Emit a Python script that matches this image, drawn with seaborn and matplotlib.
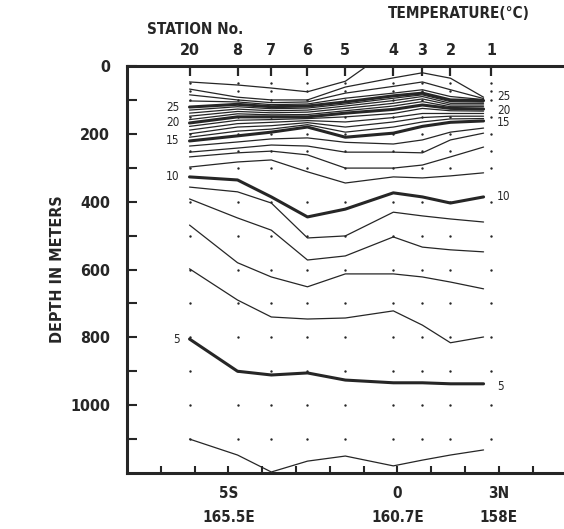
import numpy as np
import pandas as pd
import matplotlib
matplotlib.use("Agg")
import matplotlib.pyplot as plt
import seaborn as sns

# ---------------- data ----------------
station_no = ["20", "8", "7", "6", "5", "4", "3", "2", "1"]
station_lat = [-6.15, -4.73, -3.73, -2.66, -1.54, -0.12, 0.74, 1.57, 2.78]   # degrees (S negative)
iso_lat = [-6.15, -4.73, -3.73, -2.66, -1.54, -0.12, 0.74, 1.57, 2.55]       # where isotherm points sit
sample_depths = [50, 75, 100, 150, 200, 250, 300, 400, 500, 600, 700, 800, 900, 1000, 1100]

nan = np.nan
iso_29 = [47, 56, 65, 76, 45, -55, nan, nan, nan]
iso_28 = [68, 92, 100, 100, 62, 35, 20, 36, 92]
iso_27 = [85, 100, 108, 106, 80, 60, 47, 70, 96]
iso_26 = [103, 106, 114, 112, 95, 80, 70, 90, 99]
iso_25 = [121, 113, 120, 118, 106, 88, 80, 100, 102]
iso_24 = [130, 120, 126, 124, 112, 95, 85, 105, 106]
iso_23 = [139, 127, 132, 130, 118, 102, 90, 110, 110]
iso_22 = [148, 134, 138, 136, 125, 110, 97, 115, 115]
iso_21 = [158, 141, 144, 143, 132, 118, 105, 120, 120]
iso_20 = [168, 150, 150, 150, 139, 128, 115, 125, 127]
iso_19 = [178, 160, 158, 155, 150, 140, 125, 132, 133]
iso_18 = [189, 170, 166, 161, 165, 152, 140, 140, 140]
iso_17 = [200, 180, 176, 167, 180, 165, 152, 148, 148]
iso_16 = [210, 192, 186, 173, 195, 180, 165, 156, 155]
iso_15 = [221, 206, 195, 180, 210, 198, 178, 166, 162]
iso_14 = [236, 224, 215, 212, 225, 230, 218, 195, 183]
iso_13 = [254, 242, 233, 236, 254, 254, 256, 218, 198]
iso_12 = [268, 256, 251, 262, 301, 301, 292, 268, 239]
iso_11 = [298, 283, 277, 312, 345, 327, 330, 324, 315]
iso_10 = [327, 336, 386, 445, 422, 374, 386, 404, 386]
iso_9 = [357, 371, 404, 507, 501, 431, 442, 451, 460]
iso_8 = [392, 448, 484, 572, 560, 504, 534, 542, 548]
iso_7 = [469, 580, 622, 651, 613, 613, 622, 637, 657]
iso_6 = [598, 690, 740, 746, 743, 722, 764, 816, 799]
iso_5 = [805, 900, 911, 905, 926, 934, 934, 937, 937]
iso_4 = [1100, 1147, 1197, 1165, 1150, 1179, 1162, 1147, 1132]

isotherms = {29: iso_29, 28: iso_28, 27: iso_27, 26: iso_26, 25: iso_25, 24: iso_24,
             23: iso_23, 22: iso_22, 21: iso_21, 20: iso_20, 19: iso_19, 18: iso_18,
             17: iso_17, 16: iso_16, 15: iso_15, 14: iso_14, 13: iso_13, 12: iso_12,
             11: iso_11, 10: iso_10, 9: iso_9, 8: iso_8, 7: iso_7, 6: iso_6, 5: iso_5, 4: iso_4}

left_labels = [25, 20, 15, 10, 5]
right_labels = [25, 20, 15, 10, 5]
right_label_depths = [91, 130, 168, 386, 946]

lat_ticks = [-5, 0, 3]
lat_tick_labels = ["5S\n165.5E", "0\n160.7E", "3N\n158E"]
depth_ticks = [0, 200, 400, 600, 800, 1000]

# ---------------- frames ----------------
rows = []
for t, d in isotherms.items():
    for la, de in zip(iso_lat, d):
        if not np.isnan(de):
            rows.append({"lat": la, "depth": de, "temp": t,
                         "weight": "major" if t % 5 == 0 else "minor"})
iso_df = pd.DataFrame(rows)

grid_df = pd.DataFrame([{"lat": la, "depth": de} for la in station_lat for de in sample_depths])

# ---------------- figure ----------------
sns.set_style("white")
plt.rcParams["font.family"] = ["DejaVu Sans"]
ink = "#262626"

fig = plt.figure(figsize=(5.64, 5.29), dpi=100)
ax = fig.add_axes([127 / 564, 1 - 473 / 529, 437 / 564, (473 - 66) / 529])

sns.lineplot(data=iso_df, x="lat", y="depth", units="temp", estimator=None, sort=False,
             size="weight", sizes={"major": 2.2, "minor": 0.9}, color=ink,
             legend=False, ax=ax)
sns.scatterplot(data=grid_df, x="lat", y="depth", color=ink, s=3, linewidth=0,
                legend=False, ax=ax)

surface_tick_depth = 14
ax.plot(station_lat, [surface_tick_depth] * len(station_lat), ls="none", marker="|",
        ms=7, mew=1.6, color=ink, clip_on=False)

ax.set_xlim(-8, 4.93)
ax.set_ylim(1200, 0)

for sp in ["left", "top", "bottom"]:
    ax.spines[sp].set_linewidth(2.2)
    ax.spines[sp].set_color(ink)
ax.spines["right"].set_visible(False)

txt = dict(fontweight="bold", fontstretch="condensed", color=ink)

ax.set_yticks(depth_ticks)
ax.set_yticks(np.arange(100, 1200, 100), minor=True)
ax.set_yticklabels([str(v) for v in depth_ticks], fontsize=11.5, **txt)
ax.tick_params(axis="y", which="both", direction="in", length=7, width=1.5, color=ink,
               pad=12, left=True)

ax.set_xticks(lat_ticks)
ax.set_xticks(np.arange(-7, 5, 1), minor=True)
ax.set_xticklabels(lat_tick_labels, fontsize=11, **txt)
for lab in ax.get_xticklabels():
    lab.set_linespacing(1.75)
ax.tick_params(axis="x", which="both", direction="in", length=5, width=1.5, color=ink,
               pad=9, bottom=True)

ax.set_xlabel("")
ax.set_ylabel("DEPTH IN METERS", fontsize=11.5, **txt)
ax.yaxis.set_label_coords(-0.142, 0.5)

top = ax.secondary_xaxis("top")
top.set_xticks(station_lat)
top.set_xticklabels(station_no, fontsize=11.5, **txt)
top.tick_params(length=0, pad=6)
top.spines["top"].set_visible(False)

fig.text(147 / 564, 1 - 30 / 529, "STATION No.", ha="left", va="center", fontsize=11, **txt)
fig.text(388 / 564, 1 - 13 / 529, "TEMPERATURE(°C)", ha="left", va="center", fontsize=11, **txt)

lab_kw = dict(fontsize=8.5, color=ink, fontstretch="condensed", va="center")
for t in left_labels:
    ax.text(iso_lat[0] - 0.3, isotherms[t][0], str(t), ha="right", **lab_kw)
for t, dep in zip(right_labels, right_label_depths):
    ax.text(iso_lat[-1] + 0.4, dep, str(t), ha="left", **lab_kw)

fig.savefig("out.png", dpi=100, facecolor="white")
